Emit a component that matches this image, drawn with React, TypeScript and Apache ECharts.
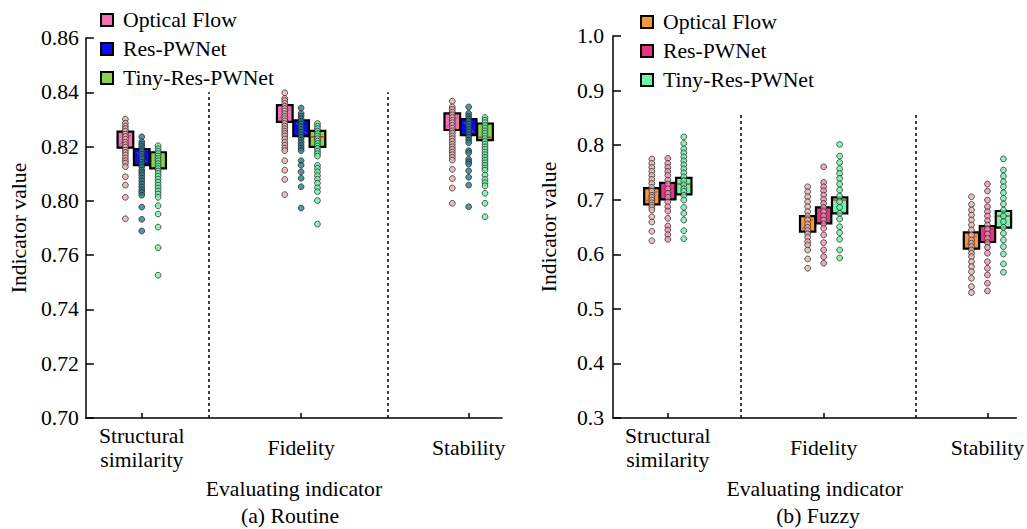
import React, { useEffect, useRef } from "react";
import * as echarts from "echarts";

// ---------- shared labels ----------
const categories = ["Structural\nsimilarity", "Fidelity", "Stability"];
const methods = ["Optical Flow", "Res-PWNet", "Tiny-Res-PWNet"];
const routineYTickLabels = ["0.70", "0.72", "0.74", "0.76", "0.80", "0.82", "0.84", "0.86"];
const fuzzyYTickLabels = ["0.3", "0.4", "0.5", "0.6", "0.7", "0.8", "0.9", "1.0"];

// ---------- (a) Routine: sample values (as printed on the axis) ----------
const routineOpticalFlow = [
  [0.8301, 0.8286, 0.8275, 0.8266, 0.8257, 0.8246, 0.8237, 0.8227, 0.8216, 0.8207, 0.8198, 0.8187, 0.8178, 0.8169, 0.8158, 0.8148, 0.8139, 0.8126, 0.8089, 0.8058, 0.8013, 0.7868],
  [0.8398, 0.8377, 0.8369, 0.8359, 0.8349, 0.834, 0.8331, 0.8321, 0.8312, 0.8303, 0.8294, 0.8285, 0.8275, 0.8266, 0.8257, 0.8248, 0.8239, 0.8228, 0.8216, 0.8205, 0.8194, 0.8185, 0.8148, 0.8113, 0.8079, 0.8023],
  [0.8367, 0.8346, 0.8337, 0.8327, 0.8317, 0.8307, 0.8297, 0.8288, 0.8278, 0.8268, 0.8258, 0.8249, 0.8239, 0.8229, 0.8219, 0.8209, 0.8199, 0.819, 0.818, 0.817, 0.816, 0.815, 0.8116, 0.8082, 0.8047, 0.7982],
];
const routineResPWNet = [
  [0.8236, 0.8218, 0.8209, 0.82, 0.8191, 0.8182, 0.8172, 0.8163, 0.8154, 0.8143, 0.8134, 0.8125, 0.8113, 0.8104, 0.8095, 0.8084, 0.8073, 0.8062, 0.8051, 0.804, 0.8031, 0.8021, 0.7954, 0.7864, 0.7778],
  [0.8342, 0.8322, 0.8312, 0.8302, 0.8293, 0.8283, 0.8273, 0.8263, 0.8253, 0.8243, 0.8234, 0.8224, 0.8214, 0.8204, 0.8194, 0.8185, 0.8148, 0.8131, 0.8107, 0.8083, 0.8052, 0.7947],
  [0.8346, 0.8322, 0.8312, 0.8302, 0.8293, 0.8283, 0.8273, 0.8263, 0.8253, 0.8243, 0.8234, 0.8224, 0.8214, 0.8185, 0.8177, 0.8153, 0.8144, 0.8136, 0.8111, 0.8087, 0.8058, 0.7957],
];
const routineTiny = [
  [0.8203, 0.8192, 0.8183, 0.8174, 0.8165, 0.8156, 0.8147, 0.8137, 0.8128, 0.8119, 0.811, 0.8101, 0.8091, 0.808, 0.8069, 0.8058, 0.8047, 0.8036, 0.8025, 0.8013, 0.7964, 0.7903, 0.7807, 0.7655, 0.7526],
  [0.8285, 0.8275, 0.8266, 0.8257, 0.8248, 0.8239, 0.8229, 0.822, 0.8211, 0.8202, 0.8193, 0.8183, 0.8174, 0.8165, 0.8131, 0.812, 0.8107, 0.8093, 0.808, 0.8065, 0.8048, 0.8034, 0.8001, 0.7829],
  [0.8307, 0.8297, 0.8288, 0.8278, 0.8268, 0.8258, 0.8249, 0.8239, 0.8229, 0.8219, 0.8209, 0.8199, 0.819, 0.818, 0.817, 0.816, 0.815, 0.814, 0.8131, 0.8121, 0.8113, 0.8095, 0.8079, 0.8067, 0.8055, 0.8028, 0.7982, 0.7883],
];
// boxes: [low, high] per indicator
const routineBoxOpticalFlow = [[0.8196, 0.8255], [0.8291, 0.8353], [0.8261, 0.8322]];
const routineBoxResPWNet = [[0.8132, 0.8191], [0.8238, 0.8297], [0.8242, 0.8301]];
const routineBoxTiny = [[0.812, 0.8179], [0.8199, 0.8258], [0.8224, 0.8285]];
const routineTinyMarks = [null, 0.8236, 0.8234];

// ---------- (b) Fuzzy ----------
const fuzzyOpticalFlow = [
  [0.7744, 0.7665, 0.7592, 0.7519, 0.7446, 0.7372, 0.7299, 0.7226, 0.7153, 0.708, 0.7043, 0.6994, 0.6944, 0.6902, 0.686, 0.6811, 0.6688, 0.6591, 0.6421, 0.6249],
  [0.7237, 0.7146, 0.7054, 0.6963, 0.6871, 0.678, 0.6701, 0.6628, 0.6555, 0.6494, 0.6432, 0.6372, 0.6311, 0.6231, 0.6171, 0.6079, 0.5914, 0.5744],
  [0.7054, 0.6915, 0.6811, 0.6719, 0.6628, 0.6537, 0.6445, 0.6354, 0.6262, 0.6202, 0.6139, 0.6079, 0.6019, 0.5957, 0.5865, 0.5774, 0.5682, 0.5561, 0.5408, 0.5298],
];
const fuzzyResPWNet = [
  [0.7757, 0.7665, 0.7592, 0.7519, 0.7446, 0.736, 0.7287, 0.7201, 0.7116, 0.7043, 0.6957, 0.6871, 0.6793, 0.6659, 0.6518, 0.6445, 0.6359, 0.6275],
  [0.7603, 0.7318, 0.7237, 0.7164, 0.7085, 0.7007, 0.6933, 0.686, 0.678, 0.6701, 0.6628, 0.6555, 0.6476, 0.6354, 0.6213, 0.6079, 0.5957, 0.5836],
  [0.7287, 0.7158, 0.6994, 0.6871, 0.678, 0.6701, 0.6615, 0.6537, 0.6458, 0.6372, 0.6293, 0.6213, 0.6128, 0.6019, 0.5865, 0.5744, 0.5622, 0.547, 0.5329],
];
const fuzzyTiny = [
  [0.8152, 0.8031, 0.7932, 0.7859, 0.7786, 0.7713, 0.764, 0.7566, 0.7493, 0.742, 0.7347, 0.7274, 0.7201, 0.7153, 0.708, 0.6994, 0.686, 0.675, 0.6628, 0.6432, 0.6286],
  [0.8013, 0.7799, 0.7683, 0.7567, 0.7482, 0.7391, 0.7287, 0.7177, 0.7067, 0.6963, 0.686, 0.675, 0.6646, 0.6505, 0.6396, 0.6275, 0.6079, 0.5933],
  [0.7749, 0.7543, 0.7433, 0.7329, 0.7237, 0.7127, 0.7025, 0.6921, 0.6811, 0.6701, 0.6597, 0.6494, 0.6385, 0.6262, 0.6139, 0.6006, 0.5823, 0.5671],
];
const fuzzyBoxOpticalFlow = [[0.6915, 0.7213], [0.6414, 0.6701], [0.6103, 0.6403]];
const fuzzyBoxResPWNet = [[0.7007, 0.731], [0.6567, 0.686], [0.6225, 0.6518]];
const fuzzyBoxTiny = [[0.7098, 0.7402], [0.675, 0.7043], [0.6487, 0.6793]];
const fuzzyTinyMarks = [0.7287, 0.6994, 0.6701];

// ---------- layout (not data) ----------
const GROUP_X = [1, 1.975, 3];
const SERIES_OFFSET = [-0.1, 0, 0.1];
const BOX_W = 0.096;
const FONT = "'Liberation Serif', 'Times New Roman', serif";
const FS = 21.7;

// The routine axis is printed with a jump between 0.76 and 0.80 (equal spacing)
function routineToAxis(v: number) {
  if (v >= 0.8) return v - 0.02;
  if (v >= 0.76) return 0.76 + (v - 0.76) / 2;
  return v;
}

type Cfg = {
  points: number[][][];
  boxes: number[][][];
  marks: (number | null)[];
  boxColors: string[];
  dotColors: string[];
  mapY: (v: number) => number;
  yMin: number;
  yMax: number;
  yInterval: number;
  yFormatter: (v: number) => string;
  yLabelMargin: number;
  grid: any;
  xMin: number;
  xMax: number;
  separators: number[];
  sepTop: number;
  legendLeft: number;
  legendTop: number;
  title: string;
  titleX: number;
};

function buildOption(c: Cfg): any {
  const decor = ["up", "down", "red"];
  const series: any[] = [];
  methods.forEach((m, si) => {
    const boxData = c.boxes[si].map((b, gi) => [
      GROUP_X[gi] + SERIES_OFFSET[si],
      c.mapY(b[0]),
      c.mapY(b[1]),
      si === 2 && c.marks[gi] != null ? c.mapY(c.marks[gi] as number) : NaN,
    ]);
    series.push({
      type: "custom",
      name: m,
      z: 2,
      encode: { x: 0, y: [1, 2] },
      data: boxData,
      renderItem: (params: any, api: any) => {
        const x = api.value(0);
        const lo = api.value(1);
        const hi = api.value(2);
        const mk = api.value(3);
        const p1 = api.coord([x, hi]);
        const p2 = api.coord([x, lo]);
        const w = api.size([BOX_W, 0])[0];
        const x0 = p1[0] - w / 2;
        const x1 = p1[0] + w / 2;
        const children: any[] = [
          {
            type: "rect",
            shape: { x: x0, y: p1[1], width: w, height: p2[1] - p1[1] },
            style: { fill: c.boxColors[si], stroke: "#000", lineWidth: 2.2 },
          },
        ];
        if (decor[si] === "up") {
          children.push({
            type: "line",
            shape: { x1: x0 + 2, y1: p2[1] - 3, x2: x1 - 2, y2: p1[1] + 3 },
            style: { stroke: "#6b5aa6", lineWidth: 1, lineDash: [3, 1] },
          });
        } else if (decor[si] === "down") {
          children.push({
            type: "line",
            shape: { x1: x0 + 3, y1: p1[1] + 3, x2: x1 - 3, y2: p2[1] - 3 },
            style: { stroke: "#8a4fc0", lineWidth: 1 },
          });
        } else if (!isNaN(mk)) {
          const pm = api.coord([x, mk]);
          children.push({
            type: "line",
            shape: { x1: x0 + 1, y1: pm[1], x2: x1 - 1, y2: pm[1] },
            style: { stroke: "#e0302a", lineWidth: 1.5 },
          });
        }
        return { type: "group", children };
      },
    });
  });
  methods.forEach((m, si) => {
    const pts: number[][] = [];
    c.points[si].forEach((vals, gi) => {
      vals.forEach((v) => pts.push([GROUP_X[gi] + SERIES_OFFSET[si], c.mapY(v)]));
    });
    const s: any = {
      type: "scatter",
      name: m + " samples",
      z: 3,
      symbol: "circle",
      symbolSize: 5.8,
      itemStyle: { color: c.dotColors[si], borderColor: "#222", borderWidth: 0.9 },
      data: pts,
    };
    if (si === 0) {
      s.markLine = {
        silent: true,
        symbol: ["none", "none"],
        label: { show: false },
        lineStyle: { type: [3, 3], color: "#000", width: 1.5 },
        emphasis: { disabled: true },
        data: c.separators.map((sx) => [
          { coord: [sx, c.yMin] },
          { coord: [sx, c.sepTop] },
        ]),
      };
    }
    series.push(s);
  });

  return {
    animation: false,
    backgroundColor: "#fff",
    textStyle: { fontFamily: FONT, color: "#000" },
    title: {
      text: c.title,
      left: c.titleX,
      textAlign: "center",
      top: 505,
      padding: 0,
      textStyle: { fontFamily: FONT, fontSize: FS, fontWeight: "normal", color: "#000", lineHeight: 22 },
    },
    legend: {
      orient: "vertical",
      left: c.legendLeft,
      top: c.legendTop,
      padding: 0,
      icon: "rect",
      itemWidth: 12,
      itemHeight: 12,
      itemGap: 7,
      selectedMode: false,
      textStyle: { fontFamily: FONT, fontSize: FS, color: "#000", padding: [0, 0, 0, 5] },
      data: methods.map((m, i) => ({
        name: m,
        itemStyle: { color: c.boxColors[i], borderColor: "#000", borderWidth: 2 },
      })),
    },
    grid: c.grid,
    xAxis: {
      type: "value",
      min: c.xMin,
      max: c.xMax,
      splitLine: { show: false },
      axisLine: { show: true, lineStyle: { color: "#000", width: 1.5 } },
      axisTick: {
        show: true,
        inside: true,
        length: 5,
        customValues: GROUP_X,
        lineStyle: { color: "#000", width: 1.5 },
      },
      axisLabel: {
        customValues: GROUP_X,
        formatter: (v: number) => {
          const i = GROUP_X.findIndex((g) => Math.abs(g - v) < 1e-6);
          return i >= 0 ? categories[i] : "";
        },
        fontFamily: FONT,
        fontSize: FS,
        color: "#000",
        margin: 30,
        verticalAlign: "middle",
        lineHeight: 24,
      },
      name: "Evaluating indicator",
      nameLocation: "middle",
      nameGap: 60,
      nameTextStyle: { fontFamily: FONT, fontSize: FS, color: "#000" },
    },
    yAxis: {
      type: "value",
      min: c.yMin,
      max: c.yMax,
      interval: c.yInterval,
      splitLine: { show: false },
      axisLine: { show: true, lineStyle: { color: "#000", width: 1.5 } },
      axisTick: { show: true, inside: true, length: 8, lineStyle: { color: "#000", width: 1.5 } },
      axisLabel: {
        formatter: c.yFormatter,
        fontFamily: FONT,
        fontSize: FS,
        color: "#000",
        margin: c.yLabelMargin,
      },
      name: "Indicator value",
      nameLocation: "middle",
      nameGap: 53,
      nameTextStyle: { fontFamily: FONT, fontSize: FS, color: "#000" },
    },
    series,
  };
}

const routineOption = buildOption({
  points: [routineOpticalFlow, routineResPWNet, routineTiny],
  boxes: [routineBoxOpticalFlow, routineBoxResPWNet, routineBoxTiny],
  marks: routineTinyMarks,
  boxColors: ["#f270b4", "#0a0af5", "#8ed150"],
  dotColors: ["#e9aeb0", "#2a7a8a", "#6df0a4"],
  mapY: routineToAxis,
  yMin: 0.7,
  yMax: 0.84,
  yInterval: 0.02,
  yFormatter: (v: number) => routineYTickLabels[Math.round((v - 0.7) / 0.02)] ?? "",
  yLabelMargin: 7,
  grid: { left: 78, right: 28, top: 38, bottom: 111 },
  xMin: 0.658,
  xMax: 3.204,
  separators: [1.408, 2.502],
  sepTop: 0.82,
  legendLeft: 100,
  legendTop: 9,
  title: "(a) Routine",
  titleX: 290,
});

const fuzzyOption = buildOption({
  points: [fuzzyOpticalFlow, fuzzyResPWNet, fuzzyTiny],
  boxes: [fuzzyBoxOpticalFlow, fuzzyBoxResPWNet, fuzzyBoxTiny],
  marks: fuzzyTinyMarks,
  boxColors: ["#f6963f", "#e4357f", "#6ef7ab"],
  dotColors: ["#e6b2b2", "#f08fb8", "#6ef0a6"],
  mapY: (v: number) => v,
  yMin: 0.3,
  yMax: 1.0,
  yInterval: 0.1,
  yFormatter: (v: number) => fuzzyYTickLabels[Math.round((v - 0.3) / 0.1)] ?? "",
  yLabelMargin: 9,
  grid: { left: 80, right: 0, top: 36, bottom: 111 },
  xMin: 0.657,
  xMax: 3.181,
  separators: [1.454, 2.55],
  sepTop: 0.8586,
  legendLeft: 110,
  legendTop: 11,
  title: "(b) Fuzzy",
  titleX: 288,
});

function Chart({ option, style }: { option: any; style: React.CSSProperties }) {
  const ref = useRef<HTMLDivElement>(null);
  useEffect(() => {
    if (!ref.current) return;
    const chart = echarts.init(ref.current, null, { renderer: "svg" });
    chart.setOption(option);
    return () => chart.dispose();
  }, [option]);
  return <div ref={ref} style={style} />;
}

export default function App() {
  return (
    <div style={{ position: "fixed", left: 0, top: 0, width: 1027, height: 529, background: "#fff" }}>
      <Chart option={routineOption} style={{ position: "absolute", left: 0, top: 0, width: 530, height: 529 }} />
      <Chart option={fuzzyOption} style={{ position: "absolute", left: 530, top: 0, width: 497, height: 529 }} />
    </div>
  );
}
